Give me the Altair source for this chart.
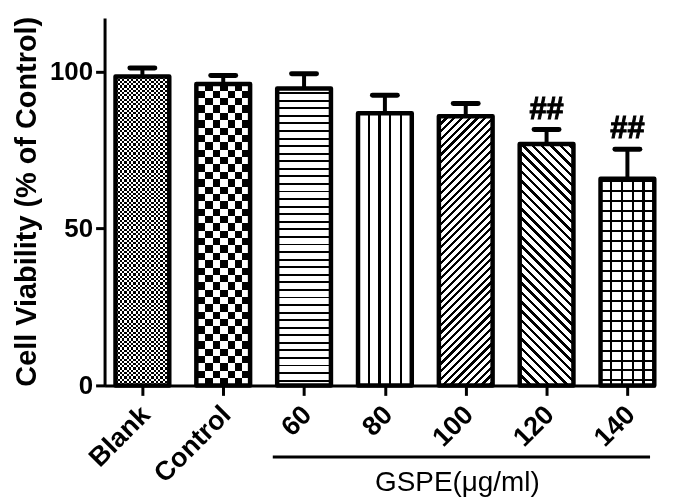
import json
import math
import altair as alt
import pandas as pd

# ---------------- data ----------------
categories = ["Blank", "Control", "60", "80", "100", "120", "140"]
means = [98.4, 96.0, 94.6, 86.7, 85.7, 76.9, 65.8]
sds = [2.7, 2.7, 4.7, 5.7, 4.1, 4.6, 9.4]
sig = ["", "", "", "", "", "##", "##"]
patterns = ["fine_checker", "checker", "hstripe", "vstripe", "diag_up", "diag_down", "grid"]
y_ticks = [0, 50, 100]
y_title = "Cell Viability (% of Control)"
group_label = "GSPE(\u03bcg/ml)"
group_first, group_last = "60", "140"

# ---------------- layout ----------------
W, H = 553, 369
YMAX = 117
XMIN, XMAX = -0.468, 6.342
HALF = 0.3325          # half bar width (x units)
CAP = 0.154            # half cap length
FONT = "Liberation Sans"
px_y = H / YMAX
px_x = W / (XMAX - XMIN)
bar_w = 2 * HALF * px_x

df = pd.DataFrame({"cat": categories, "pos": list(range(len(categories))),
                   "mean": means, "sd": sds, "sig": sig})
df["x0"] = df["pos"] - HALF
df["x1"] = df["pos"] + HALF
df["upper"] = df["mean"] + df["sd"]
df["capL"] = df["pos"] - CAP
df["capR"] = df["pos"] + CAP
df["zero"] = 0.0

xscale = alt.Scale(domain=[XMIN, XMAX], nice=False, zero=False)
yscale = alt.Scale(domain=[0, YMAX], nice=False)

label_expr = json.dumps(categories) + "[datum.value]"
X_AX = alt.Axis(values=list(range(len(categories))), labelExpr=label_expr, title=None,
                grid=False, domainWidth=3, domainColor="black", tickWidth=3,
                tickColor="black", tickSize=10, labelAngle=-45, labelAlign="right",
                labelBaseline="middle", labelPadding=15, labelFont=FONT, labelFontSize=27,
                labelFontWeight="bold", labelColor="black", labelOffset=3,
                labelOverlap=False, labelBound=False, labelFlush=False)
Y_AX = alt.Axis(values=y_ticks, title=y_title, grid=False, domainWidth=3,
                domainColor="black", tickWidth=3, tickColor="black", tickSize=9,
                labelPadding=3, labelFont=FONT, labelFontSize=26, labelFontWeight="bold",
                labelColor="black", titleFont=FONT, titleFontSize=29,
                titleFontWeight="bold", titleColor="black", titleAngle=270,
                titleBaseline="bottom", titleAlign="center", titleX=-63, titleY=184)


def X(field):
    return alt.X(field, scale=xscale, axis=X_AX)


def Y(field):
    return alt.Y(field, scale=yscale, axis=Y_AX)


def stops_for(period, frac, phase=0.0, on="black", off="white"):
    """hard-edged stripe stops in gradient t units"""
    st = [{"offset": 0, "color": off}]
    k = -1
    while (k + phase) * period < 1:
        a = max(0.0, (k + phase) * period)
        b = min(1.0, (k + phase + frac) * period)
        if b > a:
            st += [{"offset": round(a, 5), "color": off}, {"offset": round(a, 5), "color": on},
                   {"offset": round(b, 5), "color": on}, {"offset": round(b, 5), "color": off}]
        k += 1
    st.append({"offset": 1, "color": off})
    return st


def grad(x1, y1, x2, y2, stops):
    return {"gradient": "linear", "x1": x1, "y1": y1, "x2": x2, "y2": y2, "stops": stops}


def vert_grad(h, p, f, on="black", off="white", phase=0.0):   # horizontal lines
    return grad(0, 1, 0, 0, stops_for(p / h, f, phase, on, off))


def horiz_grad(w, p, f, on="black", off="white", phase=0.0):  # vertical lines
    return grad(0, 0, 1, 0, stops_for(p / w, f, phase, on, off))


def diag_grad(w, h, p, f, up=True):
    al = (w + h) / (w * w + h * h)
    P = p * math.sqrt(2) / (w + h)
    if up:
        return grad(0, 0, al * w, al * h, stops_for(P, f))
    return grad(0, 1, al * w, 1 - al * h, stops_for(P, f))


def bar_layer(cat, fill, blend=None):
    kw = dict(fill=fill, strokeWidth=0)
    if blend:
        kw["blend"] = blend
    return alt.Chart(df).transform_filter(alt.datum.cat == cat).mark_bar(**kw).encode(
        x=X("x0:Q"), x2="x1:Q", y=Y("mean:Q"), y2="zero:Q")


layers = []

for cat, m, pat in zip(categories, means, patterns):
    h = m * px_y
    vline_p = bar_w / 5
    vline_f = 2.2 / vline_p
    if pat == "fine_checker":
        layers.append(bar_layer(cat, horiz_grad(bar_w, 4.5, 0.5)))
        layers.append(bar_layer(cat, vert_grad(h, 4.5, 0.5, on="white", off="black"), "difference"))
    elif pat == "checker":
        layers.append(bar_layer(cat, horiz_grad(bar_w, 14.8, 0.5, phase=0.12)))
        layers.append(bar_layer(cat, vert_grad(h, 14.8, 0.5, on="white", off="black"), "difference"))
    elif pat == "hstripe":
        layers.append(bar_layer(cat, vert_grad(h, 7.6, 0.25, phase=0.5)))
    elif pat == "vstripe":
        layers.append(bar_layer(cat, horiz_grad(bar_w, vline_p, vline_f, phase=-vline_f / 2)))
    elif pat == "diag_up":
        layers.append(bar_layer(cat, diag_grad(bar_w, h, 5.5, 0.4, up=True)))
    elif pat == "diag_down":
        layers.append(bar_layer(cat, diag_grad(bar_w, h, 6.6, 0.38, up=False)))
    elif pat == "grid":
        layers.append(bar_layer(cat, vert_grad(h, 10.0, 0.2, phase=0.4)))
        layers.append(bar_layer(cat, horiz_grad(bar_w, vline_p, vline_f, phase=-vline_f / 2),
                                "multiply"))

# bar outlines
layers.append(alt.Chart(df).mark_bar(fillOpacity=0, stroke="black", strokeWidth=4.5,
                                     strokeJoin="round").encode(
    x=X("x0:Q"), x2="x1:Q", y=Y("mean:Q"), y2="zero:Q"))

# error bars
layers.append(alt.Chart(df).mark_rule(color="black", strokeWidth=4).encode(
    x=X("pos:Q"), y=Y("mean:Q"), y2="upper:Q"))
layers.append(alt.Chart(df).mark_rule(color="black", strokeWidth=5, strokeCap="round").encode(
    x=X("capL:Q"), x2="capR:Q", y=Y("upper:Q")))

# significance marks
layers.append(alt.Chart(df).transform_filter(alt.datum.sig != "").mark_text(
    font=FONT, fontSize=31, fontWeight="bold", color="black", baseline="middle", dy=-20,
    stroke="black", strokeWidth=1).encode(
    x=X("pos:Q"), y=Y("upper:Q"), text="sig:N"))

# group bracket + label
gi0, gi1 = categories.index(group_first), categories.index(group_last)
gdf = pd.DataFrame({"gx0": [gi0 - 0.387], "gx1": [gi1 + 0.28], "label": [group_label]})
gdf["gmid"] = (gdf["gx0"] + gdf["gx1"]) / 2 - 0.05
layers.append(alt.Chart(gdf).mark_rule(color="black", strokeWidth=3).encode(
    x=X("gx0:Q"), x2="gx1:Q", y=alt.value(441)))
layers.append(alt.Chart(gdf).mark_text(font=FONT, fontSize=28, color="black",
                                       baseline="alphabetic", align="center").encode(
    x=X("gmid:Q"), y=alt.value(475), text="label:N"))

chart = alt.layer(*layers).properties(
    width=W, height=H, autosize=alt.AutoSizeParams(type="none"),
    padding={"left": 97, "top": 9, "right": 12, "bottom": 112},
    background="white",
).configure_view(stroke=None)

chart.save("out.html", embed_options={"renderer": "svg", "actions": False})
